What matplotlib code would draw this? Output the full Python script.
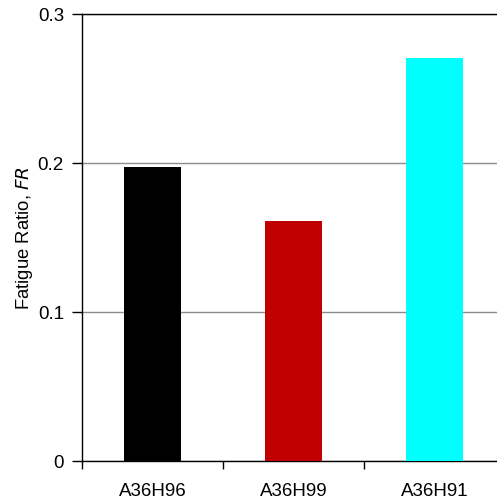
import numpy as np
import matplotlib.pyplot as plt

plt.rcParams['font.family'] = ['Liberation Sans', 'DejaVu Sans']

alloys = ["A36H96", "A36H99", "A36H91"]
fatigue_ratio = [0.197, 0.161, 0.270]
bar_colors = ["#000000", "#C00000", "#00FFFF"]

fig = plt.figure(figsize=(4.97, 5.02), dpi=100)
# plot area runs slightly past the right edge, like the original
ax = fig.add_axes([82/497, 40/502, 423/497, 447.5/502])

x = np.arange(len(alloys))
ax.bar(x, fatigue_ratio, width=0.4, color=bar_colors, zorder=3)

ax.set_xlim(-0.5, len(alloys) - 0.5)
ax.set_ylim(0, 0.3)
ax.set_yticks([0, 0.1, 0.2, 0.3])
ax.set_yticklabels(["0", "0.1", "0.2", "0.3"])
ax.set_xticks(x)
ax.set_xticklabels(alloys)
ax.set_xticks(np.arange(len(alloys) + 1) - 0.5, minor=True)

ax.tick_params(axis='x', which='major', length=0, pad=15, labelsize=13.5)
ax.tick_params(axis='x', which='minor', length=6, width=1, direction='out')
ax.tick_params(axis='y', length=7, width=1, direction='out', pad=6, labelsize=13.5)

ax.yaxis.grid(True, color="#8c8c8c", linewidth=1)
ax.set_axisbelow(True)
ax.spines['right'].set_visible(False)
for s in ['left', 'bottom', 'top']:
    ax.spines[s].set_color("black")
    ax.spines[s].set_linewidth(1)

ax.set_ylabel(r"Fatigue Ratio, $\it{FR}$", fontsize=13.3, labelpad=2)

fig.savefig("out.png", dpi=100)
